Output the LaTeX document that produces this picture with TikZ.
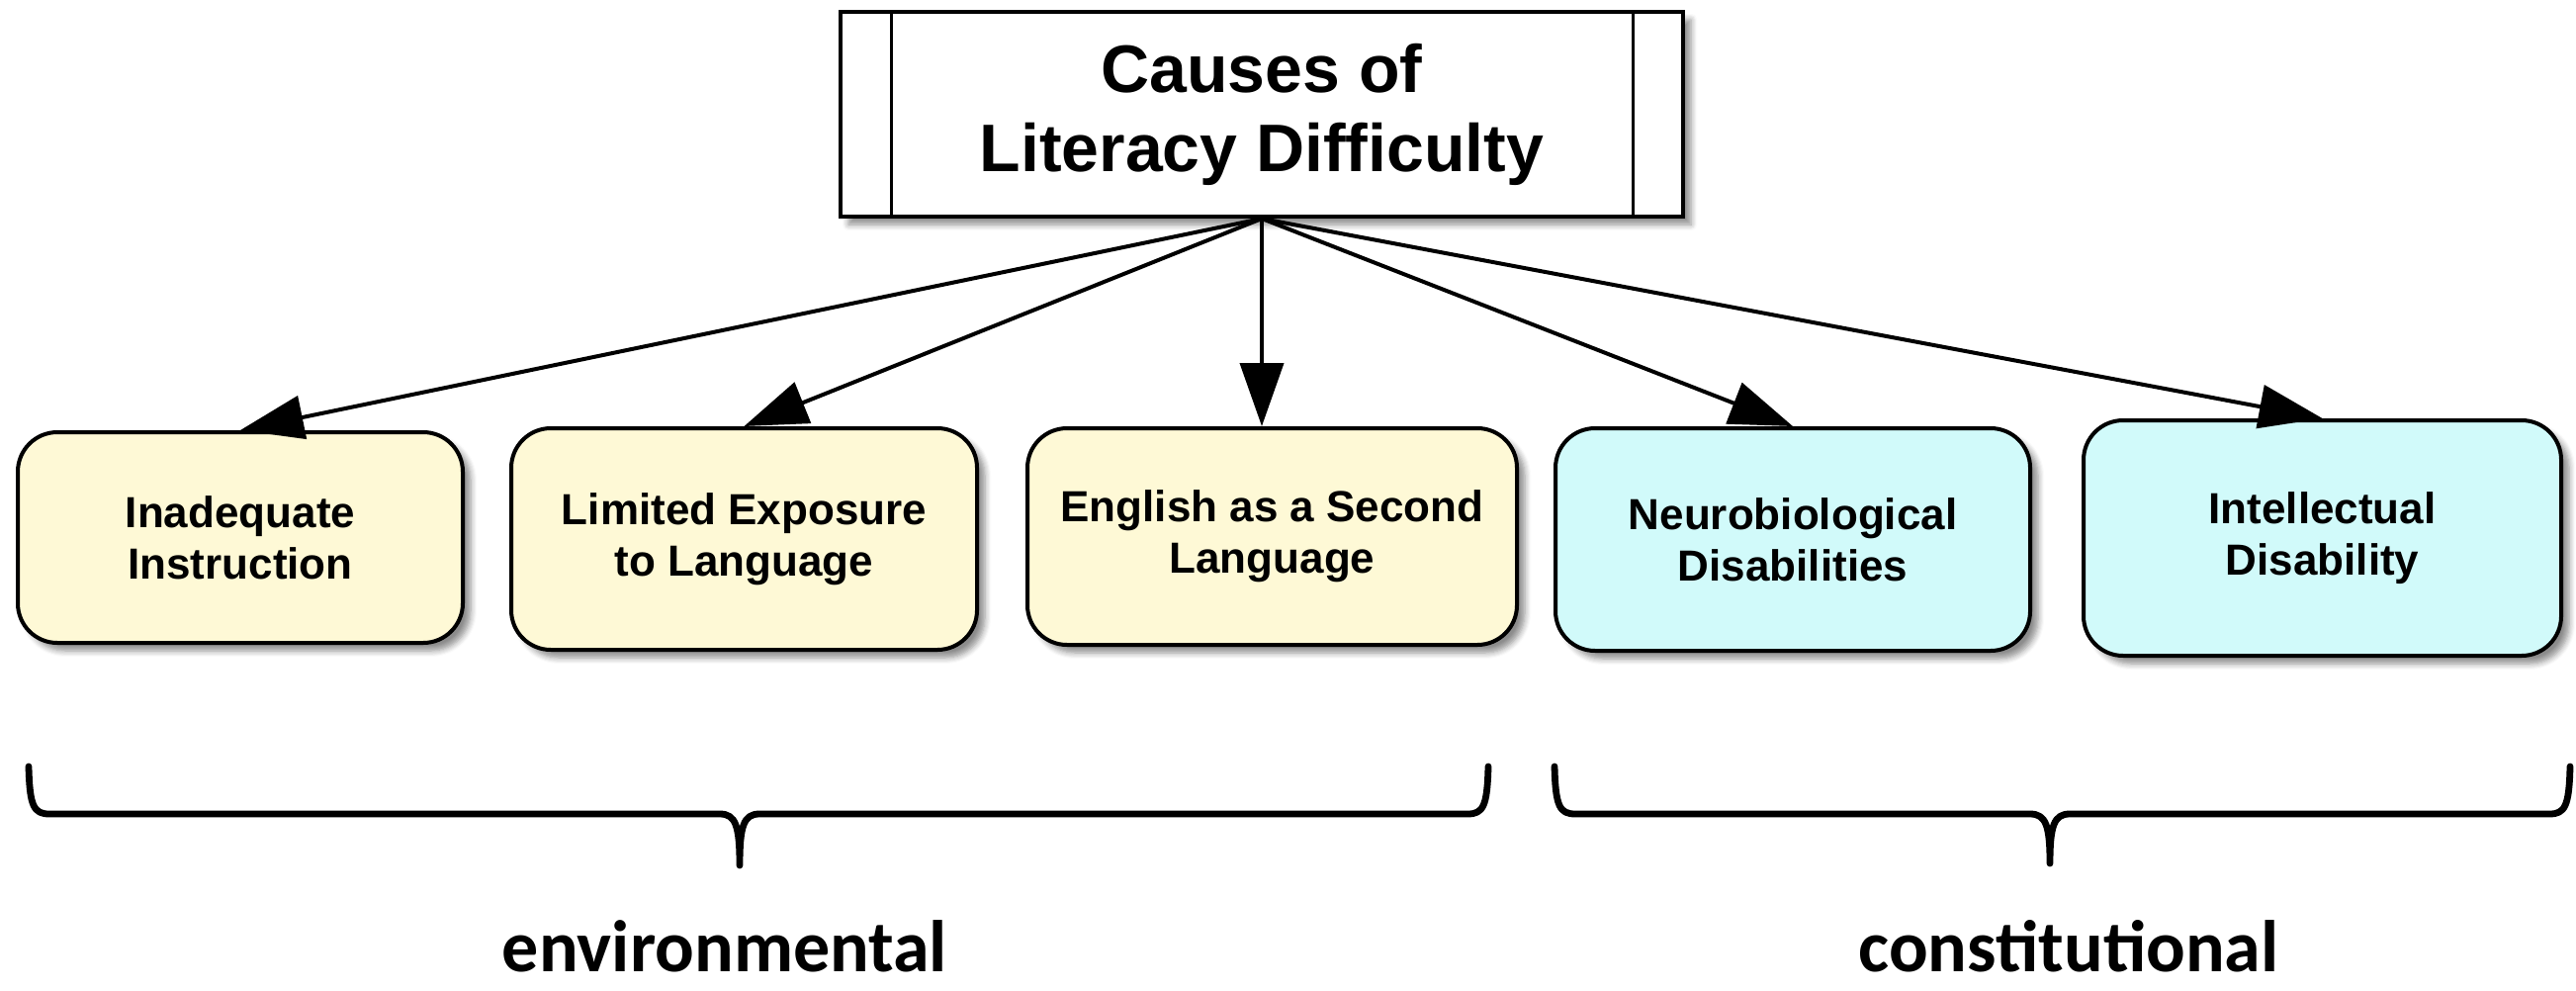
\documentclass[tikz,border=0pt]{standalone}
\usepackage{fontspec}
\setmainfont{Liberation Sans}
\newfontfamily\labelfont{Carlito}
\usetikzlibrary{arrows.meta,shadows,shadows.blur}

\definecolor{creamfill}{HTML}{FEF9D6}
\definecolor{cyanfill}{HTML}{D1FAFA}

\tikzset{
  boxshadow/.style={blur shadow={shadow xshift=4pt, shadow yshift=-4pt,
      shadow blur radius=3pt, shadow blur steps=6, shadow opacity=45}},
  titlebox/.style={draw, line width=2pt, fill=white, boxshadow,
      align=center, inner sep=0pt,
      font=\fontsize{34}{40}\selectfont\bfseries},
  causebox/.style={draw, line width=2pt, rounded corners=20pt, boxshadow,
      align=center, inner sep=0pt,
      font=\fontsize{22}{26}\selectfont\bfseries},
  conn/.style={line width=2pt, -{Triangle[length=32pt,width=22pt]}},
  bracepath/.style={line width=3.4pt, line cap=round, line join=round},
  grouplabel/.style={anchor=base, inner sep=0pt,
      font=\labelfont\bfseries\fontsize{37}{44}\selectfont}
}

\begin{document}
\begin{tikzpicture}[x=0.5pt, y=-0.5pt]
  \useasboundingbox (0,0) rectangle (2605,1001);

  % root node with side bars
  \node[titlebox, minimum width=426pt, minimum height=103.5pt] (title) at (1276,115.5)
    {Causes of\\Literacy Difficulty};
  \draw[line width=1.5pt] ([xshift=26.5pt]title.north west) -- ([xshift=26.5pt]title.south west);
  \draw[line width=1.5pt] ([xshift=-26.5pt]title.north east) -- ([xshift=-26.5pt]title.south east);

  % environmental causes
  \node[causebox, fill=creamfill, minimum width=225pt, minimum height=106.5pt] (inadequate) at (243,543.5)
    {Inadequate\\Instruction};
  \node[causebox, fill=creamfill, minimum width=235.5pt, minimum height=112pt] (exposure) at (752.5,545)
    {Limited Exposure\\to Language};
  \node[causebox, fill=creamfill, minimum width=247.5pt, minimum height=109.5pt] (esl) at (1286.5,542.5)
    {English as a Second\\Language};

  % constitutional causes
  \node[causebox, fill=cyanfill, minimum width=240pt, minimum height=112.5pt] (neuro) at (1813,545.5)
    {Neurobiological\\Disabilities};
  \node[causebox, fill=cyanfill, minimum width=241.5pt, minimum height=119pt] (intellect) at (2348.5,544)
    {Intellectual\\Disability};

  % connectors
  \draw[conn] (title.south) -- (inadequate.north);
  \draw[conn] (title.south) -- (exposure.north);
  \draw[conn] (title.south) -- (title.south |- esl.north);
  \draw[conn] (title.south) -- (neuro.north);
  \draw[conn] (title.south) -- (intellect.north);

  % grouping braces
  \draw[bracepath] (29,775) .. controls (30,815) and (34,823) .. (50,823)
    -- (728,823) .. controls (744,823) and (748,835) .. (748,875)
    .. controls (748,835) and (752,823) .. (768,823)
    -- (1484,823) .. controls (1500,823) and (1504,815) .. (1505,775);
  \draw[bracepath] (1572,775) .. controls (1573,815) and (1577,823) .. (1593,823)
    -- (2053,823) .. controls (2069,823) and (2073,835) .. (2073,873)
    .. controls (2073,835) and (2077,823) .. (2093,823)
    -- (2578,823) .. controls (2594,823) and (2598,815) .. (2599,775);

  % group labels
  \node[grouplabel] (envlabel) at (733,982) {environmental};
  \node[grouplabel] (conlabel) at (2092,982) {constitutional};
\end{tikzpicture}
\end{document}
